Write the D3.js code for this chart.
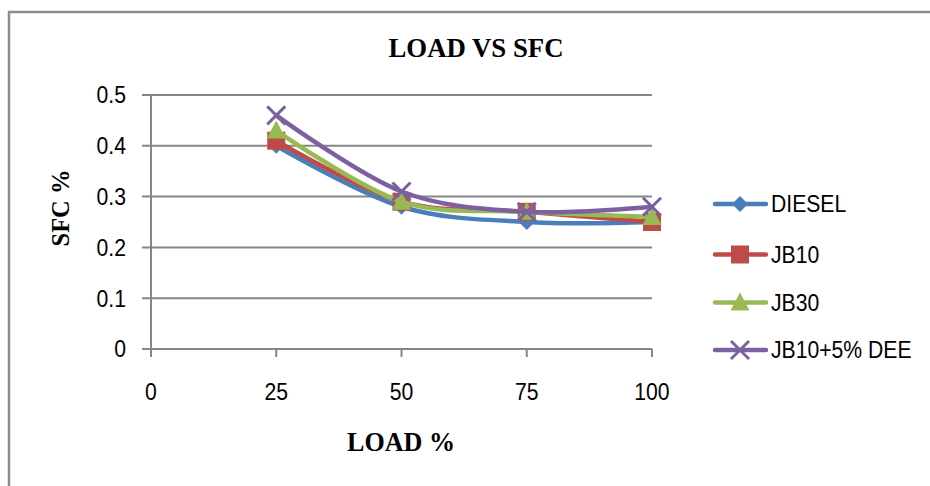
<!DOCTYPE html>
<html>
<head>
<meta charset="utf-8">
<script src="https://cdn.jsdelivr.net/npm/d3@7"></script>
<style>
  html, body { margin: 0; padding: 0; background: #fff; }
  svg { display: block; }
</style>
</head>
<body>
<div id="chart"></div>
<script>
// LOAD VS SFC — smoothed line chart with markers

const LOADS      = [25, 50, 75, 100];
const X_TICKS    = [0, 25, 50, 75, 100];
const Y_TICKS    = [0, 0.1, 0.2, 0.3, 0.4, 0.5];
const DIESEL     = [0.40, 0.28, 0.25, 0.25];
const JB10       = [0.41, 0.29, 0.27, 0.25];
const JB30       = [0.43, 0.29, 0.27, 0.26];
const JB10_DEE   = [0.46, 0.31, 0.27, 0.28];
const SERIES_NAMES = ['DIESEL', 'JB10', 'JB30', 'JB10+5% DEE'];

const series = [
  { name: SERIES_NAMES[0], values: DIESEL,   color: '#4A7EBB', marker: 'diamond' },
  { name: SERIES_NAMES[1], values: JB10,     color: '#BE4B48', marker: 'square' },
  { name: SERIES_NAMES[2], values: JB30,     color: '#98B954', marker: 'triangle' },
  { name: SERIES_NAMES[3], values: JB10_DEE, color: '#7D60A0', marker: 'cross' },
];

const W = 930, H = 486;
const GRID = '#868686';
const sans = '"Liberation Sans", Arial, sans-serif';
const serif = '"Liberation Serif", "Times New Roman", serif';

const svg = d3.select('#chart').append('svg')
  .attr('width', W).attr('height', H)
  .attr('viewBox', `0 0 ${W} ${H}`);

// the source font looks a bit condensed: squeeze glyphs horizontally
function condense(sel, k) {
  sel.each(function() {
    const len = this.getComputedTextLength();
    d3.select(this).attr('textLength', len * k).attr('lengthAdjust', 'spacingAndGlyphs');
  });
}

// chart area border (only top/left visible in the crop)
svg.append('path')
  .attr('d', `M9,${H + 5} V12 H${W + 5}`)
  .attr('fill', 'none')
  .attr('stroke', '#8c8c8c')
  .attr('stroke-width', 2.5);

const x = d3.scaleLinear().domain([0, 100]).range([151, 652]);
const y = d3.scaleLinear().domain([0, 0.5]).range([349, 95]);

// ─── Grid + axes ──────────────────────────────────────────────────────────────
svg.append('g').selectAll('line')
  .data(Y_TICKS)
  .join('line')
  .attr('x1', x(0) - 9).attr('x2', x(100))
  .attr('y1', d => y(d)).attr('y2', d => y(d))
  .attr('stroke', GRID).attr('stroke-width', 2);

svg.append('line')
  .attr('x1', x(0)).attr('x2', x(0))
  .attr('y1', y(0.5)).attr('y2', y(0) + 8)
  .attr('stroke', GRID).attr('stroke-width', 2);

svg.append('g').selectAll('line')
  .data(X_TICKS.slice(1))
  .join('line')
  .attr('x1', d => x(d)).attr('x2', d => x(d))
  .attr('y1', y(0)).attr('y2', y(0) + 8)
  .attr('stroke', GRID).attr('stroke-width', 2);

svg.append('g').selectAll('text')
  .data(Y_TICKS)
  .join('text')
  .attr('x', 126)
  .attr('y', d => y(d))
  .attr('dy', '0.36em')
  .attr('text-anchor', 'end')
  .attr('font-family', sans)
  .attr('font-size', 23.5)
  .attr('fill', '#000')
  .text(d => d === 0 ? '0' : d3.format('.1f')(d))
  .call(condense, 0.9);

svg.append('g').selectAll('text')
  .data(X_TICKS)
  .join('text')
  .attr('x', d => x(d))
  .attr('y', 392)
  .attr('dy', '0.36em')
  .attr('text-anchor', 'middle')
  .attr('font-family', sans)
  .attr('font-size', 23.5)
  .attr('fill', '#000')
  .text(d => d)
  .call(condense, 0.9);

// ─── Titles ───────────────────────────────────────────────────────────────────
svg.append('text')
  .attr('x', 476).attr('y', 57)
  .attr('text-anchor', 'middle')
  .attr('font-family', serif).attr('font-weight', 'bold')
  .attr('font-size', 27)
  .attr('textLength', 175).attr('lengthAdjust', 'spacingAndGlyphs')
  .text('LOAD VS SFC');

svg.append('text')
  .attr('x', 401).attr('y', 451)
  .attr('text-anchor', 'middle')
  .attr('font-family', serif).attr('font-weight', 'bold')
  .attr('font-size', 27)
  .attr('textLength', 108).attr('lengthAdjust', 'spacingAndGlyphs')
  .text('LOAD %');

svg.append('text')
  .attr('transform', 'translate(69,208) rotate(-90)')
  .attr('text-anchor', 'middle')
  .attr('font-family', serif).attr('font-weight', 'bold')
  .attr('font-size', 26)
  .attr('textLength', 77).attr('lengthAdjust', 'spacingAndGlyphs')
  .text('SFC %');

// ─── Markers ──────────────────────────────────────────────────────────────────
function drawMarker(g, type, color) {
  if (type === 'diamond') {
    g.append('path').attr('d', 'M0,-8 L8,0 L0,8 L-8,0 Z').attr('fill', color);
  } else if (type === 'square') {
    g.append('rect').attr('x', -9).attr('y', -9).attr('width', 18).attr('height', 18)
      .attr('fill', color);
  } else if (type === 'triangle') {
    g.append('path').attr('d', 'M0,-10 L9.5,8 L-9.5,8 Z').attr('fill', color);
  } else {
    g.append('path').attr('d', 'M-9,-9 L9,9 M-9,9 L9,-9')
      .attr('stroke', color).attr('stroke-width', 3).attr('fill', 'none');
  }
}

// ─── Lines ────────────────────────────────────────────────────────────────────
const line = d3.line()
  .x((d, i) => x(LOADS[i]))
  .y(d => y(d))
  .curve(d3.curveCardinal.tension(0));

for (const s of series) {
  const g = svg.append('g');
  g.append('path')
    .attr('d', line(s.values))
    .attr('fill', 'none')
    .attr('stroke', s.color)
    .attr('stroke-width', 4.5)
    .attr('stroke-linecap', 'round')
    .attr('stroke-linejoin', 'round');
  s.values.forEach((v, i) => {
    const m = g.append('g').attr('transform', `translate(${x(LOADS[i])},${y(v)})`);
    drawMarker(m, s.marker, s.color);
  });
}

// ─── Legend ───────────────────────────────────────────────────────────────────
const legendRows = [204, 254.5, 302.5, 350];
series.forEach((s, i) => {
  const g = svg.append('g').attr('transform', `translate(0,${legendRows[i]})`);
  g.append('line')
    .attr('x1', 715).attr('x2', 766)
    .attr('stroke', s.color).attr('stroke-width', 4.5)
    .attr('stroke-linecap', 'round');
  const m = g.append('g').attr('transform', 'translate(740,0)');
  drawMarker(m, s.marker, s.color);
  g.append('text')
    .attr('x', 771).attr('y', 0).attr('dy', '0.36em')
    .attr('font-family', sans)
    .attr('font-size', 23.5)
    .attr('fill', '#000')
    .text(s.name)
    .call(condense, 0.9);
});
</script>
</body>
</html>
